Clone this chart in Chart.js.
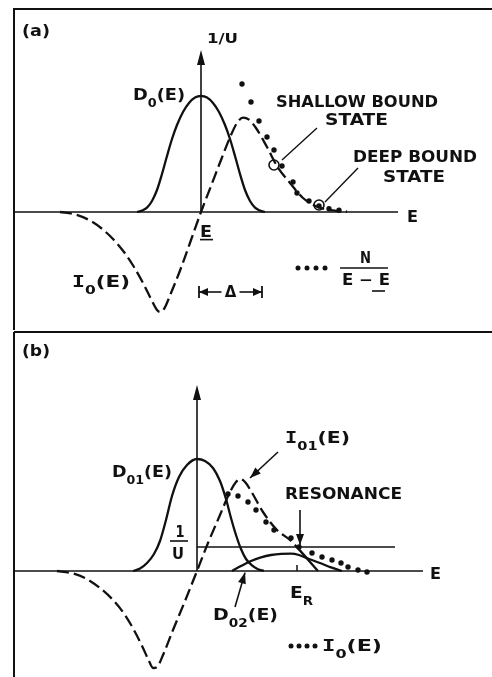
<!DOCTYPE html>
<html><head><meta charset="utf-8">
<script src="https://cdn.jsdelivr.net/npm/chart.js@4.4.1/dist/chart.umd.min.js"></script>
<style>
html,body{margin:0;padding:0;background:#fff;}
#wrap{position:relative;width:492px;height:677px;overflow:hidden;}
canvas{position:absolute;left:0;}
#ca{top:0}
#cb{top:330px}
</style></head><body>
<div id="wrap"><canvas id="ca" width="492" height="330"></canvas><canvas id="cb" width="492" height="347"></canvas></div>
<script>
// ---------- DATA (schematic values; E in arbitrary units, E-underline = 0) ----------
// Panel (a)
const d0A = [[-3.2,0],[-2.95,0.07],[-2.7,0.22],[-2.45,0.55],[-2.2,1.1],[-1.95,1.9],[-1.7,2.8],[-1.45,3.65],[-1.2,4.35],[-0.9,5.0],[-0.6,5.45],[-0.3,5.72],[0,5.8],[0.3,5.72],[0.6,5.45],[0.9,5.0],[1.2,4.35],[1.45,3.65],[1.7,2.8],[1.95,1.9],[2.2,1.1],[2.45,0.55],[2.7,0.22],[2.95,0.07],[3.2,0]];
const i0A = [[-7.05,0],[-6.3,-0.12],[-5.6,-0.4],[-5.0,-0.8],[-4.4,-1.35],[-3.85,-2.0],[-3.35,-2.75],[-2.9,-3.55],[-2.5,-4.35],[-2.2,-4.9],[-2.05,-5.0],[-1.85,-4.85],[-1.5,-4.05],[-1.0,-2.8],[-0.5,-1.4],[0,0],[0.5,1.3],[1.0,2.6],[1.5,3.85],[1.8,4.45],[2.1,4.72],[2.4,4.62],[2.75,4.2],[3.3,3.25],[3.8,2.3],[4.45,1.45],[5.1,0.7],[5.85,0.25],[6.6,0.08],[7.3,0.02]];
const nOverA = [[2.05,6.4],[2.5,5.5],[2.9,4.55],[3.3,3.75],[3.65,3.1],[4.05,2.3],[4.6,1.5],[4.8,0.95],[5.4,0.55],[5.9,0.3],[6.4,0.16],[6.9,0.09]];
const boundStatesA = [[3.65,2.35],[5.9,0.35]];
// Panel (b)
const d01B = [[-3.2,0],[-2.85,0.12],[-2.5,0.4],[-2.15,0.85],[-1.85,1.5],[-1.55,2.55],[-1.25,3.75],[-0.9,4.7],[-0.5,5.3],[0,5.6],[0.4,5.5],[0.8,5.15],[1.15,4.5],[1.45,3.6],[1.7,2.65],[1.95,1.8],[2.2,1.1],[2.45,0.6],[2.75,0.28],[3.05,0.09],[3.35,0]];
const i01B = [[-7.0,0],[-6.3,-0.1],[-5.6,-0.35],[-4.85,-0.85],[-4.2,-1.45],[-3.6,-2.2],[-3.1,-3.05],[-2.7,-3.85],[-2.4,-4.5],[-2.2,-4.85],[-2.0,-4.8],[-1.7,-4.2],[-1.2,-2.95],[-0.6,-1.5],[0,0],[0.55,1.4],[1.15,2.8],[1.65,3.95],[1.95,4.45],[2.15,4.6],[2.4,4.45],[2.7,4.0],[3.3,2.95],[4.0,2.05],[4.65,1.55],[5.05,1.13],[6.05,0]];
const d02B = [[1.75,0],[2.2,0.25],[2.7,0.5],[3.2,0.68],[3.7,0.8],[4.2,0.86],[4.7,0.87],[5.1,0.8],[5.6,0.6],[6.15,0.4],[6.7,0.18],[7.25,0]];
const i0B = [[1.55,3.85],[2.05,3.75],[2.55,3.45],[2.95,3.05],[3.45,2.45],[3.85,2.05],[4.7,1.65],[5.1,1.2],[5.75,0.9],[6.25,0.7],[6.75,0.55],[7.2,0.4],[7.55,0.2],[8.05,0.05],[8.5,-0.05]];
const invU = 1.2;      // level of 1/U
const eR = 5.0;        // resonance energy E_R
const invULine = [[0,invU],[9.9,invU]];

// ---------- helpers ----------
const pts = a => a.map(p => ({x:p[0], y:p[1]}));
const BLACK = '#111';
function curve(data, dash, extra){
  return Object.assign({data: pts(data), showLine:true, pointRadius:0, borderColor:BLACK,
    borderWidth:2.3, cubicInterpolationMode:'monotone', borderDash: dash||[], fill:false}, extra||{});
}
function dots(data, r){
  return {data: pts(data), showLine:false, pointRadius:r||2.6, pointBackgroundColor:BLACK, pointBorderWidth:0, borderColor:BLACK};
}
function P(ch,x,y){ return [ch.scales.x.getPixelForValue(x), ch.scales.y.getPixelForValue(y)]; }
function seg(ctx,a,b,w){ ctx.beginPath(); ctx.lineWidth=w||1.5; ctx.strokeStyle=BLACK; ctx.moveTo(a[0],a[1]); ctx.lineTo(b[0],b[1]); ctx.stroke(); }
function head(ctx,from,to,len,hw){
  const dx=to[0]-from[0], dy=to[1]-from[1], L=Math.hypot(dx,dy), ux=dx/L, uy=dy/L;
  const bx=to[0]-ux*len, by=to[1]-uy*len;
  ctx.beginPath(); ctx.fillStyle=BLACK;
  ctx.moveTo(to[0],to[1]); ctx.lineTo(bx-uy*hw,by+ux*hw); ctx.lineTo(bx+uy*hw,by-ux*hw); ctx.closePath(); ctx.fill();
}
function rich(ctx,ch,t){
  const [X,Y]=P(ch,t.x,t.y); const size=t.size||16; let total=0;
  const ms=t.segs.map(s=>{
    const fs=s.sub?size*0.72:size;
    const font=`bold ${fs}px ${s.mono?'"DejaVu Sans Mono"':'"DejaVu Sans"'}`;
    ctx.font=font; const w=ctx.measureText(s.t).width; total+=w;
    return {font,w,dy:s.sub?size*0.42:0};
  });
  const k=t.w?t.w/total:1;
  ctx.save(); ctx.translate(X,Y+size*0.365); ctx.scale(k,1);
  ctx.textBaseline='alphabetic'; ctx.textAlign='left'; ctx.fillStyle=BLACK;
  let cx=0; t.segs.forEach((s,i)=>{ctx.font=ms[i].font; ctx.fillText(s.t,cx,ms[i].dy); cx+=ms[i].w;});
  ctx.restore();
}
const T = s => ({t:s}), S = s => ({t:s,sub:true}), M = s => ({t:s,mono:true});

// ---------- annotations (data coordinates) ----------
const annA = {
  frame:'a', xAxis:[-9.35,9.85], yTip:8.1,
  texts:[
    {segs:[T('(a)')], x:-8.95, y:9.05, w:28, size:15},
    {segs:[T('1/U')], x:0.3, y:8.7, w:31, size:14},
    {segs:[T('D'),S('0'),T('(E)')], x:-3.4, y:5.9, w:52},
    {segs:[T('SHALLOW BOUND')], x:3.75, y:5.55, w:162},
    {segs:[T('STATE')], x:6.2, y:4.65, w:63},
    {segs:[T('DEEP BOUND')], x:7.6, y:2.8, w:124},
    {segs:[T('STATE')], x:9.1, y:1.8, w:62},
    {segs:[T('E')], x:10.3, y:-0.2, w:11},
    {segs:[T('E')], x:-0.05, y:-1.0, w:12, size:15},
    {segs:[M('I'),S('0'),T('(E)')], x:-6.45, y:-3.45, w:58},
    {segs:[T('N')], x:7.95, y:-2.3, w:11, size:15},
    {segs:[T('E − E')], x:7.05, y:-3.4, w:48, size:15}
  ],
  lines:[
    {a:[4.05,2.6], b:[5.8,4.2], w:1.4},
    {a:[6.2,0.5], b:[7.85,2.2], w:1.4},
    {a:[-0.05,-1.38], b:[0.6,-1.38], w:1.6},   // underline of E
    {a:[6.95,-2.8], b:[9.35,-2.8], w:1.6},     // fraction bar
    {a:[8.55,-3.95], b:[9.2,-3.95], w:1.6}     // underline of second E
  ],
  legendDots:{xs:[4.85,5.3,5.75,6.2], y:-2.8},
  delta:{x0:-0.1, x1:3.05, y:-4.0}
};
const annB = {
  frame:'b', xAxis:[-9.15,11.3], yTip:9.3,
  texts:[
    {segs:[T('(b)')], x:-8.75, y:11.0, w:28, size:15},
    {segs:[T('D'),S('01'),T('(E)')], x:-4.25, y:5.0, w:60},
    {segs:[M('I'),S('01'),T('(E)')], x:4.4, y:6.7, w:65},
    {segs:[T('RESONANCE')], x:4.4, y:3.9, w:117},
    {segs:[T('1')], x:-1.08, y:2.0, w:9, size:16},
    {segs:[T('U')], x:-1.25, y:0.9, w:12, size:16},
    {segs:[T('E'),S('R')], x:4.65, y:-1.05, w:23},
    {segs:[T('D'),S('02'),T('(E)')], x:0.8, y:-2.15, w:65},
    {segs:[M('I'),S('0'),T('(E)')], x:6.25, y:-3.7, w:60},
    {segs:[T('E')], x:11.65, y:-0.1, w:11}
  ],
  lines:[
    {a:[-1.35,1.5], b:[-0.45,1.5], w:1.6},
    {a:[eR,0], b:[eR,0.3], w:1.5}
  ],
  arrows:[
    {a:[4.05,5.95], b:[2.65,4.65]},
    {a:[5.15,3.05], b:[5.15,1.3]},
    {a:[1.9,-1.8], b:[2.4,-0.08]}
  ],
  legendDots:{xs:[4.7,5.1,5.5,5.9], y:-3.75}
};

const annotate = {
  id:'annotate',
  afterDatasetsDraw(ch, args, o){
    const A=o.ann, ctx=ch.ctx; if(!A) return;
    ctx.save();
    // frame
    ctx.lineWidth=2; ctx.strokeStyle=BLACK; ctx.beginPath();
    if(A.frame==='a'){ ctx.moveTo(14,330); ctx.lineTo(14,9); ctx.lineTo(492,9); }
    else { ctx.moveTo(14,347); ctx.lineTo(14,2); ctx.moveTo(14,2); ctx.lineTo(492,2); }
    ctx.stroke();
    // axes
    seg(ctx,P(ch,A.xAxis[0],0),P(ch,A.xAxis[1],0),1.6);
    const o0=P(ch,0,0), tip=P(ch,0,A.yTip);
    seg(ctx,o0,[tip[0],tip[1]+8],1.6); head(ctx,o0,tip,15,4);
    (A.lines||[]).forEach(l=>seg(ctx,P(ch,...l.a),P(ch,...l.b),l.w));
    (A.arrows||[]).forEach(l=>{const a=P(ch,...l.a), b=P(ch,...l.b); seg(ctx,a,b,1.6); head(ctx,a,b,11,4);});
    if(A.legendDots){ ctx.fillStyle=BLACK; A.legendDots.xs.forEach(x=>{const p=P(ch,x,A.legendDots.y); ctx.beginPath(); ctx.arc(p[0],p[1],2.5,0,Math.PI*2); ctx.fill();}); }
    if(A.delta){
      const d=A.delta, a=P(ch,d.x0,d.y), b=P(ch,d.x1,d.y), m=(a[0]+b[0])/2;
      seg(ctx,[a[0],a[1]-6],[a[0],a[1]+6],1.8); seg(ctx,[b[0],b[1]-6],[b[0],b[1]+6],1.8);
      seg(ctx,[m-9,a[1]],a,1.6); head(ctx,[m-9,a[1]],a,9,4);
      seg(ctx,[m+9,b[1]],b,1.6); head(ctx,[m+9,b[1]],b,9,4);
      ctx.font='bold 15px "DejaVu Sans"'; ctx.textAlign='center'; ctx.textBaseline='middle'; ctx.fillStyle=BLACK;
      ctx.fillText('Δ',m,a[1]+1);
    }
    A.texts.forEach(t=>rich(ctx,ch,t));
    ctx.restore();
  }
};
Chart.register(annotate);

function base(xmin,xmax,ymin,ymax,ann){
  return {responsive:false, devicePixelRatio:1, animation:false,
    layout:{padding:0, autoPadding:false},
    plugins:{legend:{display:false}, tooltip:{enabled:false}, annotate:{ann}},
    scales:{x:{type:'linear',min:xmin,max:xmax,display:false}, y:{type:'linear',min:ymin,max:ymax,display:false}}};
}

new Chart(document.getElementById('ca'), {type:'scatter',
  data:{datasets:[
    curve(d0A),
    curve(i0A,[12,5]),
    dots(nOverA,2.7),
    {data:pts(boundStatesA), showLine:false, pointRadius:5, pointBorderWidth:1.6, pointBorderColor:BLACK, pointBackgroundColor:'rgba(0,0,0,0)'}
  ]},
  options: base(-10.05,14.55,-5.9,10.6,annA)});

new Chart(document.getElementById('cb'), {type:'scatter',
  data:{datasets:[
    curve(d01B),
    curve(i01B,[12,5],{segment:{borderDash: c => c.p0.parsed.x >= eR ? [] : [12,5]}}),
    curve(d02B),
    curve(invULine,[],{borderWidth:1.5, cubicInterpolationMode:'default', tension:0}),
    dots(i0B,2.7)
  ]},
  options: base(-9.85,14.75,-5.3,12.05,annB)});
</script>
</body></html>
